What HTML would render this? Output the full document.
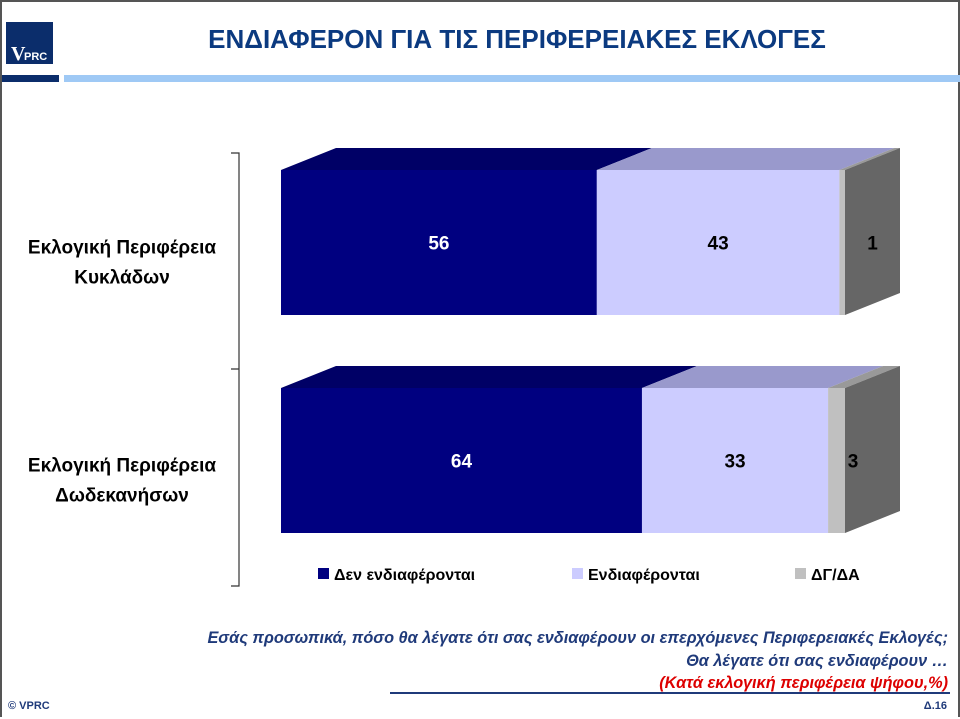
<!DOCTYPE html>
<html><head><meta charset="utf-8"><style>
body{margin:0;width:960px;height:719px;overflow:hidden;background:#fff;font-family:"Liberation Sans","DejaVu Sans",sans-serif;}
#frame{position:absolute;left:0;top:0;width:956px;height:715px;border-top:2px solid #555;border-left:2px solid #555;border-right:2px solid #555;}
</style></head><body>
<div id="frame"></div>
<svg width="960" height="719" style="position:absolute;left:0;top:0">
  <g>
    <rect x="6" y="22" width="47" height="42" fill="#0b2d6b"/>
    <text x="11" y="60" fill="#fff" font-family="Liberation Serif,serif" font-size="20" font-weight="bold">V</text>
    <text x="24" y="60" fill="#fff" font-size="11" font-weight="bold">PRC</text>
  </g>
  <text x="517" y="48" text-anchor="middle" fill="#0b3a80" font-size="26" font-weight="bold">ΕΝΔΙΑΦΕΡΟΝ ΓΙΑ ΤΙΣ ΠΕΡΙΦΕΡΕΙΑΚΕΣ ΕΚΛΟΓΕΣ</text>
  <rect x="2" y="75" width="57" height="7" fill="#0b2d6b"/>
  <rect x="64" y="75" width="896" height="7" fill="#9fc9f5"/>
  <g stroke="#333" stroke-width="1.2" fill="none">
    <path d="M231 153 H239 V586 H231 M231 369 H239"/>
  </g>
  <g id="plot"></g>
  <g font-size="16" font-weight="bold" fill="#000">
    <g><rect x="318" y="568" width="11" height="11" fill="#000080"/><text x="334" y="580">Δεν ενδιαφέρονται</text></g>
    <g><rect x="572" y="568" width="11" height="11" fill="#ccccff"/><text x="588" y="580">Ενδιαφέρονται</text></g>
    <g><rect x="795" y="568" width="11" height="11" fill="#c0c0c0"/><text x="811" y="580">ΔΓ/ΔΑ</text></g>
  </g>
  <g font-style="italic" font-weight="bold" font-size="16.3" text-anchor="end">
    <text x="948" y="643" fill="#1f3a7a">Εσάς προσωπικά, πόσο θα λέγατε ότι σας ενδιαφέρουν οι επερχόμενες Περιφερειακές Εκλογές;</text>
    <text x="948" y="666" fill="#1f3a7a">Θα λέγατε ότι σας ενδιαφέρουν …</text>
    <text x="948" y="688" fill="#dd0000">(Κατά εκλογική περιφέρεια ψήφου,%)</text>
  </g>
  <rect x="390" y="692" width="560" height="2" fill="#1f3a7a"/>
  <text x="8" y="709" font-size="11" font-weight="bold" fill="#1f3a7a">© VPRC</text>
  <text x="947" y="709" font-size="11" font-weight="bold" fill="#1f3a7a" text-anchor="end">Δ.16</text>
</svg>
<script>
const categories = ["Εκλογική Περιφέρεια|Κυκλάδων", "Εκλογική Περιφέρεια|Δωδεκανήσων"];
const notInterested = [56, 64];
const interested = [43, 33];
const dkna = [1, 3];
const series = [notInterested, interested, dkna];
const faceColors = ["#000080", "#ccccff", "#c0c0c0"];
const topColors = ["#000066", "#9999cc", "#999999"];
const labelColors = ["#fff", "#000", "#000"];
const seriesNames = ["not-interested", "interested", "dk-na"];
const x0 = 281, scale = 5.64, dx = 55, dy = -22, barH = 145;
const yTops = [170, 388];
const xs = v => x0 + v * scale;
const NS = "http://www.w3.org/2000/svg";
const plot = document.getElementById('plot');
function mk(tag, attrs, parent) { const e = document.createElementNS(NS, tag); for (const k in attrs) e.setAttribute(k, attrs[k]); parent.appendChild(e); return e; }
categories.forEach((cat, i) => {
  const y = yTops[i];
  let cum = 0;
  const g = mk('g', {}, plot);
  
  
  series.forEach((s, j) => {
    const a = xs(cum), b = xs(cum + s[i]);
    const top = mk('polygon', { points: `${a},${y} ${b},${y} ${b + dx},${y + dy} ${a + dx},${y + dy}`, fill: topColors[j] }, g);
    
    
    const r = mk('rect', { x: a, y: y, width: b - a, height: barH, fill: faceColors[j] }, g);
    
    
    cum += s[i];
  });
  const xe = xs(cum);
  const side = mk('polygon', { points: `${xe},${y} ${xe + dx},${y + dy} ${xe + dx},${y + dy + barH} ${xe},${y + barH}`, fill: '#666666' }, g);
  
  
  cum = 0;
  series.forEach((s, j) => {
    const a = xs(cum), b = xs(cum + s[i]);
    let lx = (a + b) / 2, col = labelColors[j];
    if (s[i] < 5) { lx = j === 2 && i === 0 ? xe + dx / 2 : b + 8; col = '#000'; }
    const t = mk('text', { x: lx, y: y + barH / 2 + 7, 'text-anchor': 'middle', 'font-size': 19, 'font-weight': 'bold', fill: col }, g);
    t.textContent = s[i];
    
    
    cum += s[i];
  });
  const parts = cat.split('|');
  parts.forEach((p, k) => {
    const t = mk('text', { x: 122, y: y + barH / 2 + 11 + k * 30, 'text-anchor': 'middle', 'font-size': 19, 'font-weight': 'bold', fill: '#000' }, plot);
    t.textContent = p;
    
    
  });
});
</script>
</body></html>
